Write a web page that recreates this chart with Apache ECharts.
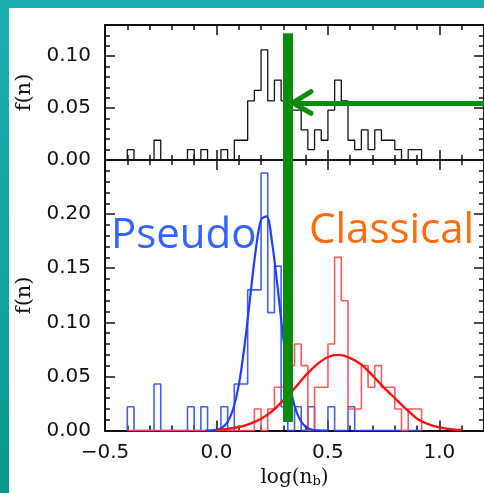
<!DOCTYPE html>
<html lang="en">
<head>
<meta charset="UTF-8">
<title>Bulge Sersic index histograms</title>
<script src="https://cdn.jsdelivr.net/npm/echarts@6/dist/echarts.min.js"></script>
<style>
    html, body { margin: 0; padding: 0; }
    body { width: 484px; height: 493px; overflow: hidden; position: relative;
           background: linear-gradient(to bottom, #1bb0b0, #079a90); }
    #panel { position: absolute; left: 9px; top: 8px; width: 475px; height: 485px; background: #fff; }
    #main { position: absolute; left: 0; top: 0; width: 484px; height: 493px; }
</style>
</head>
<body>
<div id="panel"></div>
<div id="main"></div>
<script>
    // histogram bins: left edge of first bin and bin width in log(n_b)
    const binStart = -0.40;
    const binWidth = 0.03;

    // top panel: all bulges
    const allBulges = [
        0.010, 0, 0, 0, 0.019, 0, 0, 0, 0, 0.010,
        0, 0.010, 0, 0, 0.010, 0, 0.019, 0.019, 0.057, 0.067,
        0.106, 0.057, 0.077, 0.057, 0.048, 0.048, 0.029, 0.010, 0.029, 0.019,
        0.048, 0.077, 0.057, 0.019, 0.010, 0.029, 0.010, 0.029, 0.019, 0.019,
        0.010, 0, 0.010, 0.010
    ];
    // bottom panel: pseudo bulges (blue)
    const pseudoBulges = [
        0.022, 0, 0, 0, 0.043, 0, 0, 0, 0, 0.022,
        0, 0.022, 0, 0, 0.022, 0, 0.043, 0.043, 0.130, 0.130,
        0.238, 0.109, 0.152, 0.022, 0, 0.022, 0, 0.022, 0, 0,
        0.022, 0, 0, 0.022, 0, 0, 0, 0, 0, 0,
        0, 0, 0, 0
    ];
    // bottom panel: classical bulges (red)
    const classicalBulges = [
        0, 0, 0, 0, 0, 0, 0, 0, 0, 0,
        0, 0, 0, 0, 0, 0, 0, 0, 0, 0.020,
        0, 0.020, 0.040, 0.040, 0.060, 0.080, 0.060, 0, 0.040, 0.040,
        0.080, 0.160, 0.120, 0.020, 0.020, 0.060, 0.040, 0.060, 0.040, 0.040,
        0.020, 0, 0.020, 0.020
    ];

    // gaussian fits
    const pseudoFitX = [-0.05, 0.0, 0.025, 0.05, 0.075, 0.10, 0.125, 0.15, 0.175, 0.20, 0.225, 0.25, 0.275, 0.30, 0.325, 0.35, 0.375, 0.40, 0.425, 0.45, 0.50];
    const pseudoFitY = [0.000, 0.0008, 0.0028, 0.008, 0.020, 0.042, 0.077, 0.121, 0.165, 0.195, 0.198, 0.173, 0.131, 0.085, 0.048, 0.023, 0.010, 0.0035, 0.001, 0.0003, 0.000];
    const classicalFitX = [0.0, 0.05, 0.10, 0.15, 0.20, 0.25, 0.30, 0.35, 0.40, 0.45, 0.50, 0.55, 0.60, 0.65, 0.70, 0.75, 0.80, 0.85, 0.90, 0.95, 1.00, 1.05, 1.10];
    const classicalFitY = [0.0007, 0.0016, 0.0033, 0.0063, 0.011, 0.018, 0.028, 0.039, 0.051, 0.061, 0.068, 0.070, 0.067, 0.061, 0.051, 0.040, 0.030, 0.020, 0.011, 0.006, 0.003, 0.0013, 0.0005];

    // green annotation: cut value and the arrow level in the top panel
    const cutValue = 0.319;
    const arrowLevel = 0.055;

    const myChart = echarts.init(document.getElementById('main'), null, { renderer: 'canvas' });

    const ink = '#111';
    const green = '#0c8c0c';

    const stepPoints = (values) => {
        let pts = [[binStart, 0]];
        values.forEach((v, i) => {
            const lo = +(binStart + i * binWidth).toFixed(3);
            pts.push([lo, v], [+(lo + binWidth).toFixed(3), v]);
        });
        pts.push([+(binStart + values.length * binWidth).toFixed(3), 0]);
        return pts;
    };
    const pairs = (xs, ys) => xs.map((x, i) => [x, ys[i]]);

    const tickStyle = { color: ink, width: 1.5 };

    const xAxis = (grid, pos, labels) => ({
        type: 'value', gridIndex: grid, position: pos,
        min: -0.5, max: 1.2, interval: 0.5,
        axisLine: { show: true, onZero: false, lineStyle: { color: ink, width: 2 } },
        axisTick: { show: true, inside: true, length: 10, lineStyle: tickStyle },
        minorTick: { show: true, splitNumber: 5, length: 5, lineStyle: tickStyle },
        splitLine: { show: false },
        axisLabel: labels ? {
            show: true, margin: 12, showMaxLabel: false,
            fontFamily: 'DejaVu Sans', fontSize: 20, color: ink,
            formatter: (v) => (v < 0 ? '\u2212' : '') + Math.abs(v).toFixed(1)
        } : { show: false },
        name: labels ? 'log(n{s|b})' : '',
        nameLocation: 'middle', nameGap: 36,
        nameTextStyle: {
            fontFamily: 'DejaVu Serif', fontSize: 20, color: ink,
            rich: { s: { fontFamily: 'DejaVu Serif', fontSize: 13, color: ink, verticalAlign: 'bottom', padding: [8, 0, 0, 0] } }
        }
    });

    const yAxis = (grid, pos, max, labels) => ({
        type: 'value', gridIndex: grid, position: pos,
        min: 0, max: max, interval: 0.05,
        axisLine: { show: true, onZero: false, lineStyle: { color: ink, width: 2 } },
        axisTick: { show: true, inside: true, length: 10, lineStyle: tickStyle },
        minorTick: { show: true, splitNumber: 5, length: 5, lineStyle: tickStyle },
        splitLine: { show: false },
        axisLabel: labels ? {
            show: true, margin: 14, showMaxLabel: false,
            fontFamily: 'DejaVu Sans', fontSize: 20, color: ink,
            formatter: (v) => v.toFixed(2)
        } : { show: false },
        name: labels ? 'f(n)' : '',
        nameLocation: 'middle', nameGap: 70, nameRotate: 90,
        nameTextStyle: { fontFamily: 'DejaVu Serif', fontSize: 21, color: ink }
    });

    const option = {
        animation: false,
        grid: [
            { left: 105, top: 25, width: 380, height: 135 },
            { left: 105, top: 160, width: 380, height: 272 }
        ],
        xAxis: [
            xAxis(0, 'bottom', false),
            xAxis(0, 'top', false),
            xAxis(1, 'bottom', true),
            xAxis(1, 'top', false)
        ],
        yAxis: [
            yAxis(0, 'left', 0.13, true),
            yAxis(0, 'right', 0.13, false),
            yAxis(1, 'left', 0.25, true),
            yAxis(1, 'right', 0.25, false)
        ],
        series: [
            {
                name: 'all', type: 'line', xAxisIndex: 0, yAxisIndex: 0,
                data: stepPoints(allBulges), symbol: 'none', z: 3,
                lineStyle: { color: ink, width: 1.3 }
            },
            {
                name: 'pseudo', type: 'line', xAxisIndex: 2, yAxisIndex: 2,
                data: stepPoints(pseudoBulges), symbol: 'none', z: 3,
                lineStyle: { color: '#2b4cff', width: 1.6, opacity: 0.9 }
            },
            {
                name: 'classical', type: 'line', xAxisIndex: 2, yAxisIndex: 2,
                data: stepPoints(classicalBulges), symbol: 'none', z: 3,
                lineStyle: { color: '#ff4848', width: 1.6, opacity: 0.9 }
            },
            {
                name: 'pseudo fit', type: 'line', xAxisIndex: 2, yAxisIndex: 2,
                data: pairs(pseudoFitX, pseudoFitY), symbol: 'none', smooth: 0.3, z: 4,
                lineStyle: { color: '#1f3cff', width: 2.2 }
            },
            {
                name: 'classical fit', type: 'line', xAxisIndex: 2, yAxisIndex: 2,
                data: pairs(classicalFitX, classicalFitY), symbol: 'none', smooth: 0.3, z: 4,
                lineStyle: { color: '#ff1010', width: 2.4 }
            },
            // green cut line + arrow, top panel
            {
                type: 'lines', coordinateSystem: 'cartesian2d', xAxisIndex: 0, yAxisIndex: 0,
                z: 10, silent: true,
                lineStyle: { color: green, opacity: 1, width: 5, cap: 'round' },
                data: [
                    { coords: [[cutValue, 0.122], [cutValue, 0]], lineStyle: { width: 10, cap: 'butt' } },
                    { coords: [[1.2, arrowLevel], [0.342, arrowLevel]], lineStyle: { cap: 'butt' } },
                    { coords: [[0.424, 0.0658], [0.342, arrowLevel]] },
                    { coords: [[0.424, 0.045], [0.342, arrowLevel]] }
                ]
            },
            // green cut line, bottom panel
            {
                type: 'lines', coordinateSystem: 'cartesian2d', xAxisIndex: 2, yAxisIndex: 2,
                z: 10, silent: true,
                lineStyle: { color: green, opacity: 1, width: 10, cap: 'butt' },
                data: [
                    { coords: [[cutValue, 0.25], [cutValue, 0.008]] }
                ]
            }
        ],
        graphic: [
            {
                type: 'text', x: 111, y: 236, z: 20, silent: true,
                style: { text: 'Pseudo', font: '42px "Open Sans"', fill: '#3264ff', verticalAlign: 'middle' }
            },
            {
                type: 'text', x: 309, y: 231, z: 20, silent: true,
                style: { text: 'Classical', font: '42px "Open Sans"', fill: '#ff6a0a', verticalAlign: 'middle' }
            }
        ]
    };

    myChart.setOption(option);
</script>
</body>
</html>
